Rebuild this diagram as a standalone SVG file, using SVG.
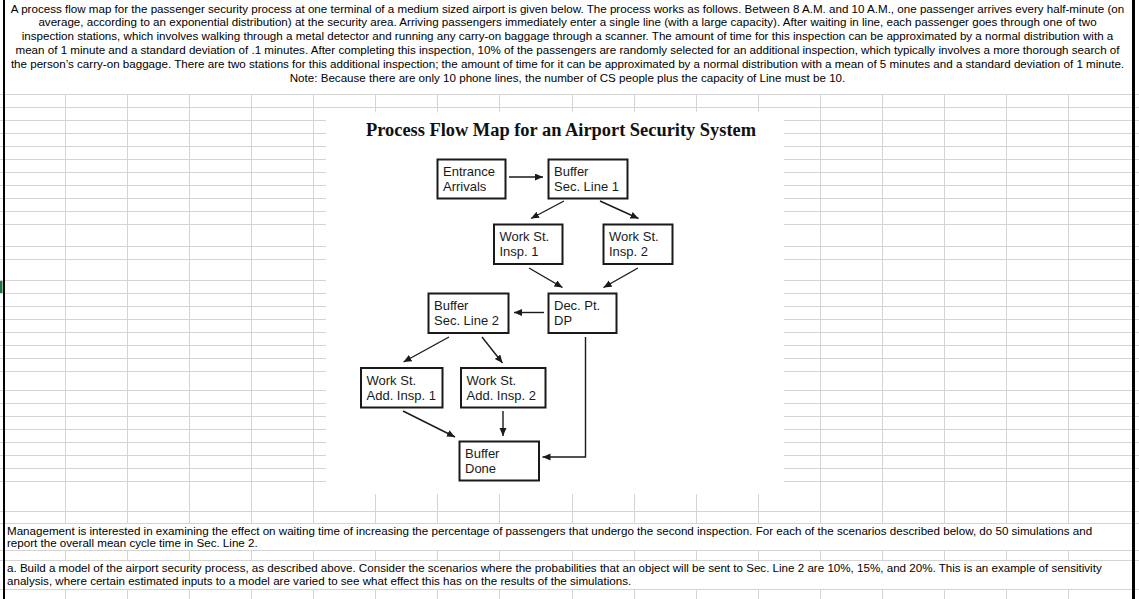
<svg xmlns="http://www.w3.org/2000/svg" width="1139" height="599" viewBox="0 0 1139 599">
<style>
.grid{stroke:#d4d4d4;stroke-width:1;fill:none}
.t{font-family:"Liberation Sans",Arial,sans-serif;font-size:11.6px;fill:#000}
.tc{text-anchor:middle}
.box{fill:#fff;stroke:#1a1a1a;stroke-width:2}
.lbl{font-family:"Liberation Sans",Arial,sans-serif;font-size:13px;fill:#1a1a1a}
.title{font-family:"Liberation Serif","Times New Roman",serif;font-weight:bold;font-size:18.4px;fill:#111;text-anchor:middle}
.conn{stroke:#1a1a1a;stroke-width:1.4;fill:none;marker-end:url(#ah)}
</style>
<defs>
<marker id="ah" markerUnits="userSpaceOnUse" markerWidth="9" markerHeight="8" refX="8" refY="3.5" orient="auto"><path d="M0,0 L8,3.5 L0,7 z" fill="#1a1a1a"/></marker>
</defs>
<rect x="0" y="0" width="1139" height="599" fill="#fff"/>
<g id="grid">
<path class="grid" d="M0 94.5H1139M0 107.5H1139
M0 120.5H326M784 120.5H1139M0 133.5H326M784 133.5H1139M0 146.5H326M784 146.5H1139M0 159.5H326M784 159.5H1139
M0 172.5H326M784 172.5H1139M0 185.5H326M784 185.5H1139M0 198.5H326M784 198.5H1139M0 211.5H326M784 211.5H1139
M0 224.5H326M784 224.5H1139M0 246.5H326M784 246.5H1139M0 259.5H326M784 259.5H1139M0 280.5H326M784 280.5H1139
M0 293.5H326M784 293.5H1139M0 306.5H326M784 306.5H1139M0 319.5H326M784 319.5H1139M0 332.5H326M784 332.5H1139
M0 345.5H326M784 345.5H1139M0 358.5H326M784 358.5H1139M0 371.5H326M784 371.5H1139M0 390.5H326M784 390.5H1139
M0 403.5H326M784 403.5H1139M0 416.5H326M784 416.5H1139M0 429.5H326M784 429.5H1139M0 442.5H326M784 442.5H1139
M0 455.5H326M784 455.5H1139M0 468.5H326M784 468.5H1139M0 481.5H326M784 481.5H1139
M0 511.5H1139M0 523.5H1139M0 550.5H1139M0 560.5H1139M0 589.5H1139
M65.5 94.5V523.5M127.5 94.5V523.5M189.5 94.5V523.5M251.5 94.5V523.5M313.5 94.5V523.5
M820.5 94.5V523.5M882.5 94.5V523.5M944.5 94.5V523.5M1006.5 94.5V523.5M1068.5 94.5V523.5
M375.5 94.5V111.7M437.5 94.5V111.7M499.5 94.5V111.7M572.5 94.5V111.7M634.5 94.5V111.7M696.5 94.5V111.7M758.5 94.5V111.7
M375.5 494V523.5M437.5 494V523.5M499.5 494V523.5M572.5 494V523.5M634.5 494V523.5M696.5 494V523.5M758.5 494V523.5
M65.5 550.5V560.5M127.5 550.5V560.5M189.5 550.5V560.5M251.5 550.5V560.5M313.5 550.5V560.5M375.5 550.5V560.5M437.5 550.5V560.5M499.5 550.5V560.5M572.5 550.5V560.5M634.5 550.5V560.5M696.5 550.5V560.5M758.5 550.5V560.5M820.5 550.5V560.5M882.5 550.5V560.5M944.5 550.5V560.5M1006.5 550.5V560.5M1068.5 550.5V560.5
M65.5 589.5V599M127.5 589.5V599M189.5 589.5V599M251.5 589.5V599M313.5 589.5V599M375.5 589.5V599M437.5 589.5V599M499.5 589.5V599M572.5 589.5V599M634.5 589.5V599M696.5 589.5V599M758.5 589.5V599M820.5 589.5V599M882.5 589.5V599M944.5 589.5V599M1006.5 589.5V599M1068.5 589.5V599"/>
<rect x="3" y="0" width="2" height="599" fill="#000"/>
<rect x="1132" y="0" width="3" height="599" fill="#000"/>
<rect x="0" y="281" width="2.5" height="12" fill="#217346"/>
</g>
<g id="intro-text" class="t tc">
<text x="567.5" y="12.5">A process flow map for the passenger security process at one terminal of a medium sized airport is given below. The process works as follows. Between 8 A.M. and 10 A.M., one passenger arrives every half-minute (on</text>
<text x="567.5" y="26.4">average, according to an exponential distribution) at the security area. Arriving passengers immediately enter a single line (with a large capacity). After waiting in line, each passenger goes through one of two</text>
<text x="567.5" y="40.3">inspection stations, which involves walking through a metal detector and running any carry-on baggage through a scanner. The amount of time for this inspection can be approximated by a normal distribution with a</text>
<text x="567.5" y="54.2">mean of 1 minute and a standard deviation of .1 minutes. After completing this inspection, 10% of the passengers are randomly selected for an additional inspection, which typically involves a more thorough search of</text>
<text x="567.5" y="68.1">the person’s carry-on baggage. There are two stations for this additional inspection; the amount of time for it can be approximated by a normal distribution with a mean of 5 minutes and a standard deviation of 1 minute.</text>
<text x="567.5" y="82">Note: Because there are only 10 phone lines, the number of CS people plus the capacity of Line must be 10.</text>
</g>
<g id="bottom-text" class="t">
<text x="7" y="534.5">Management is interested in examining the effect on waiting time of increasing the percentage of passengers that undergo the second inspection. For each of the scenarios described below, do 50 simulations and</text>
<text x="7" y="547">report the overall mean cycle time in Sec. Line 2.</text>
<text x="7" y="571.5">a. Build a model of the airport security process, as described above. Consider the scenarios where the probabilities that an object will be sent to Sec. Line 2 are 10%, 15%, and 20%. This is an example of sensitivity</text>
<text x="7" y="584.5">analysis, where certain estimated inputs to a model are varied to see what effect this has on the results of the simulations.</text>
</g>
<g id="title"><text class="title" x="561" y="135.5">Process Flow Map for an Airport Security System</text></g>
<g id="connectors">
<path class="conn" d="M509 177H543"/>
<path class="conn" d="M564 201L531 218.5"/>
<path class="conn" d="M600 201L638.5 218.5"/>
<path class="conn" d="M529 268L562.5 287.5"/>
<path class="conn" d="M638 268L603.5 287.5"/>
<path class="conn" d="M544 312.5H514"/>
<path class="conn" d="M449 337L403.5 362"/>
<path class="conn" d="M482 337L502.5 363"/>
<path class="conn" d="M403 411L455 437"/>
<path class="conn" d="M503 411V436"/>
<path class="conn" d="M585.5 337V457H542.5"/>
</g>
<g id="n-entrance"><rect class="box" x="437.5" y="159.5" width="68" height="39"/><text class="lbl" x="443" y="176">Entrance</text><text class="lbl" x="443" y="191">Arrivals</text></g>
<g id="n-buffer1"><rect class="box" x="548.5" y="159.5" width="79" height="39"/><text class="lbl" x="554" y="176">Buffer</text><text class="lbl" x="554" y="191">Sec. Line 1</text></g>
<g id="n-insp1"><rect class="box" x="494" y="224.5" width="68.5" height="39.5"/><text class="lbl" x="499.5" y="241">Work St.</text><text class="lbl" x="499.5" y="256">Insp. 1</text></g>
<g id="n-insp2"><rect class="box" x="603.5" y="224.5" width="69" height="39.5"/><text class="lbl" x="609" y="241">Work St.</text><text class="lbl" x="609" y="256">Insp. 2</text></g>
<g id="n-buffer2"><rect class="box" x="428.5" y="293.5" width="80" height="39.5"/><text class="lbl" x="434" y="310">Buffer</text><text class="lbl" x="434" y="325">Sec. Line 2</text></g>
<g id="n-dp"><rect class="box" x="548.5" y="293.5" width="68" height="39.5"/><text class="lbl" x="554" y="310">Dec. Pt.</text><text class="lbl" x="554" y="325">DP</text></g>
<g id="n-add1"><rect class="box" x="361" y="368" width="81.5" height="39.5"/><text class="lbl" x="366.5" y="384.5">Work St.</text><text class="lbl" x="366.5" y="399.5">Add. Insp. 1</text></g>
<g id="n-add2"><rect class="box" x="461" y="368" width="84.5" height="39.5"/><text class="lbl" x="466.5" y="384.5">Work St.</text><text class="lbl" x="466.5" y="399.5">Add. Insp. 2</text></g>
<g id="n-done"><rect class="box" x="459.5" y="441.5" width="79.5" height="39"/><text class="lbl" x="465" y="458">Buffer</text><text class="lbl" x="465" y="473">Done</text></g>
</svg>
